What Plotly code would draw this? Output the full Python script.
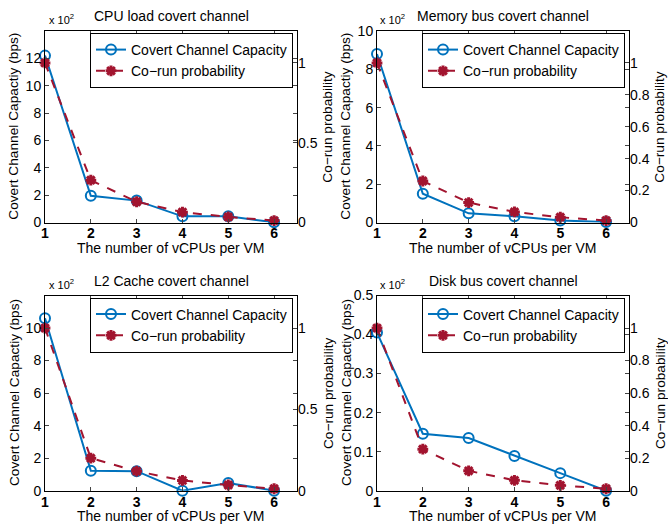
import plotly.graph_objects as go

W, H = 668, 525

# ---------------- data ----------------
vcpus = [1, 2, 3, 4, 5, 6]
x_ticks = [1, 2, 3, 4, 5, 6]

titles = ["CPU load covert channel", "Memory bus covert channel",
          "L2 Cache covert channel", "Disk bus covert channel"]

# covert channel capacity (x 10^2 bps)
cpu_capacity = [12.2, 1.95, 1.6, 0.45, 0.45, 0.02]
mem_capacity = [8.8, 1.5, 0.48, 0.32, 0.1, 0.02]
l2_capacity = [10.6, 1.22, 1.2, 0.0, 0.48, 0.0]
disk_capacity = [0.405, 0.146, 0.135, 0.089, 0.045, 0.0]

# co-run probability
cpu_corun = [1.0, 0.265, 0.13, 0.065, 0.035, 0.012]
mem_corun = [1.0, 0.26, 0.125, 0.066, 0.033, 0.012]
l2_corun = [1.0, 0.2, 0.12, 0.063, 0.035, 0.012]
disk_corun = [1.0, 0.255, 0.122, 0.064, 0.033, 0.012]

left_ticks = [[0, 2, 4, 6, 8, 10, 12], [0, 2, 4, 6, 8, 10],
              [0, 2, 4, 6, 8, 10], [0, 0.1, 0.2, 0.3, 0.4, 0.5]]
left_ranges = [[0, 14], [0, 10], [0, 12], [0, 0.5]]
right_ticks = [[0, 0.5, 1], [0, 0.2, 0.4, 0.6, 0.8, 1],
               [0, 0.5, 1], [0, 0.2, 0.4, 0.6, 0.8, 1]]
right_range = [0, 1.2]

capacities = [cpu_capacity, mem_capacity, l2_capacity, disk_capacity]
coruns = [cpu_corun, mem_corun, l2_corun, disk_corun]

# ---------------- layout geometry (pixels) ----------------
FONT = "Liberation Sans, Arial, Helvetica, sans-serif"
BLUE = "#0072BD"
RED = "#A2142F"

# plot boxes: (left, right, top, bottom) in pixels
boxes = [(45, 297, 31, 222.5), (377, 629, 31, 222.5),
         (45, 297, 295.5, 490.7), (377, 629, 295.5, 490.7)]


def px(x):
    return x / W


def py(y):
    return 1 - y / H


fig = go.Figure()
layout = dict(
    width=W, height=H,
    margin=dict(l=0, r=0, t=0, b=0, autoexpand=False),
    paper_bgcolor="white", plot_bgcolor="white",
    font=dict(family=FONT, size=13, color="black"),
    showlegend=True,
)
annotations = []

for i in range(4):
    L, R, T, B = boxes[i]
    xa = "x" if i == 0 else f"x{i + 1}"
    yl = f"y{2 * i + 1}" if i > 0 else "y"
    yr = f"y{2 * i + 2}"
    leg = "legend" if i == 0 else f"legend{i + 1}"

    fig.add_trace(go.Scatter(
        x=vcpus, y=capacities[i], xaxis=xa, yaxis=yl,
        name="Covert Channel Capacity", legend=leg,
        mode="lines+markers", cliponaxis=False,
        line=dict(color=BLUE, width=2),
        marker=dict(symbol="circle-open", size=10, color=BLUE,
                    line=dict(width=2, color=BLUE)),
    ))
    fig.add_trace(go.Scatter(
        x=vcpus, y=coruns[i], xaxis=xa, yaxis=yr,
        name="Co\u2212run probability", legend=leg,
        mode="lines+markers", cliponaxis=False,
        line=dict(color=RED, width=2, dash="dash"),
        marker=dict(symbol="asterisk-open", size=9, color=RED,
                    line=dict(width=3, color=RED)),
    ))

    xkey = "xaxis" if i == 0 else f"xaxis{i + 1}"
    ylkey = "yaxis" if i == 0 else f"yaxis{2 * i + 1}"
    yrkey = f"yaxis{2 * i + 2}"

    layout[xkey] = dict(
        domain=[px(L), px(R)], anchor=yl, range=[1, 6.5],
        tickvals=x_ticks, ticks="inside", ticklen=4, tickwidth=1,
        showline=True, linecolor="black", linewidth=1, mirror="ticks",
        showgrid=False, zeroline=False, automargin=False,
        ticklabelstandoff=-2,
        tickfont=dict(size=14, family=FONT, weight="bold"),
    )
    layout[ylkey] = dict(
        domain=[py(B), py(T)], anchor=xa, range=left_ranges[i],
        tickvals=left_ticks[i], ticks="inside", ticklen=4, tickwidth=1,
        showline=True, linecolor="black", linewidth=1, mirror="ticks",
        showgrid=False, zeroline=False, automargin=False,
        tickfont=dict(size=14, family=FONT),
    )
    layout[yrkey] = dict(
        overlaying=yl, anchor=xa, side="right", range=right_range,
        tickvals=right_ticks[i], ticks="inside", ticklen=4, tickwidth=1,
        showline=False, showgrid=False, zeroline=False, automargin=False,
        tickfont=dict(size=14, family=FONT),
    )
    layout[leg] = dict(
        x=px(R - 4), y=py(T + 2), xanchor="right", yanchor="top",
        bgcolor="white", bordercolor="black", borderwidth=1,
        font=dict(size=14, family=FONT), tracegroupgap=0,
        itemwidth=30,
    )

    cx = (L + R) / 2
    common = dict(xref="paper", yref="paper", showarrow=False,
                  xanchor="center", yanchor="middle")
    annotations.append(dict(text=titles[i], x=px(cx), y=py(T - 15),
                            font=dict(size=14, family=FONT), **common))
    annotations.append(dict(text="x 10<sup>2</sup>", x=px(L + 16), y=py(T - 12),
                            font=dict(size=11, family=FONT), **common))
    annotations.append(dict(text="The number of vCPUs per VM", x=px(cx),
                            y=py(B + 25.5), font=dict(size=14, family=FONT),
                            **common))
    annotations.append(dict(text="Covert Channel Capactiy (bps)",
                            x=px(L - 31), y=py((T + B) / 2), textangle=-90,
                            font=dict(size=13.7, family=FONT), **common))
    annotations.append(dict(text="Co\u2212run probability",
                            x=px(R + 31), y=py((T + B) / 2), textangle=-90,
                            font=dict(size=13.7, family=FONT), **common))

layout["annotations"] = annotations
fig.update_layout(**layout)
fig.write_html("out.html",
               config={"displayModeBar": False},
               post_script="document.body.style.margin='0';"
                           "document.body.style.overflow='hidden';")
